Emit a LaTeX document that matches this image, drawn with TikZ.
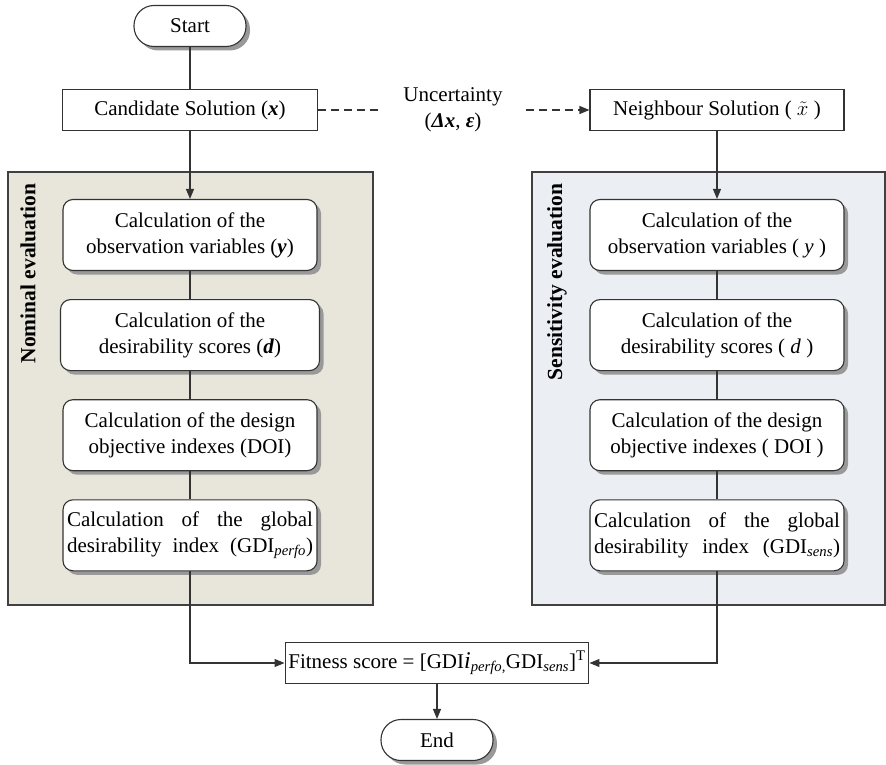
\documentclass[tikz,border=0pt]{standalone}
\usepackage{fontspec}
\setmainfont{Liberation Serif}
\usetikzlibrary{shapes, arrows.meta, positioning, shadows}

\definecolor{nomfill}{HTML}{E8E6DA}
\definecolor{sensfill}{HTML}{EBEEF3}
\newcommand{\lowsub}[1]{\textsubscript{\itshape #1}}
\newcommand{\spreadline}[1]{\hbox to 246pt{#1}}

\begin{document}
\begin{tikzpicture}[x=1pt, y=-1pt, node distance=28pt,
  font=\fontsize{21}{26}\selectfont,
  line/.style={draw=black!80, line width=1.1pt},
  arrowline/.style={line, -{Triangle[length=10pt, width=8pt]}},
  boxshadow/.style={drop shadow={shadow xshift=4pt, shadow yshift=-4pt, fill=black!40, opacity=1}},
  terminal/.style={rectangle, rounded corners=20pt, draw=black!80, line width=1.1pt, fill=white, minimum width=112pt, minimum height=41pt, boxshadow},
  sol/.style={rectangle, draw=black!80, line width=1.1pt, fill=white, minimum height=41pt},
  calc/.style={rectangle, rounded corners=10pt, draw=black!80, line width=1.1pt, fill=white, minimum width=254pt, minimum height=71pt, inner xsep=3pt, align=center, boxshadow},
  panel/.style={draw=black!75, line width=1.3pt},
  paneltitle/.style={rotate=90, anchor=east, font=\fontsize{21.5}{24}\selectfont\bfseries}
]
  \useasboundingbox (0,0) rectangle (886,765);

  % Panels
  \draw [panel, fill=nomfill] (8,172) rectangle (373,605);
  \draw [panel, fill=sensfill] (532,172) rectangle (885,605);
  \node [paneltitle] (nomtitle) at (28,180) {Nominal evaluation};
  \node [paneltitle] (senstitle) at (557,180) {Sensitivity evaluation};

  % Nodes
  \node [terminal] (start) at (190,26) {Start};
  \node [sol, minimum width=255pt] (cand) at (190,110) {Candidate Solution (\textbf{\textit{x}})};
  \node [minimum width=146pt, align=center] (unc) at (453,110) {Uncertainty\\(\textbf{\textit{Δx}}, \textbf{\textit{ε}})};
  \node [sol, minimum width=254pt] (neigh) at (717,110) {Neighbour Solution ( $\tilde{x}$ )};

  \node [calc] (obsnom) at (190,235) {Calculation of the\\observation variables (\textbf{\textit{y}})};
  \node [calc, minimum width=259pt, below=of obsnom] (desnom) {Calculation of the\\desirability scores (\textbf{\textit{d}})};
  \node [calc, below=of desnom] (doinom) {Calculation of the design\\objective indexes (DOI)};
  \node [calc, below=of doinom] (gdinom) {\spreadline{Calculation\hfill of\hfill the\hfill global}\\\spreadline{desirability\hfill index\hfill (GDI\lowsub{perfo})}};

  \node [calc] (obssens) at (717,235) {Calculation of the\\observation variables ( \textit{y} )};
  \node [calc, below=of obssens] (dessens) {Calculation of the\\desirability scores ( \textit{d} )};
  \node [calc, below=of dessens] (doisens) {Calculation of the design\\objective indexes ( DOI )};
  \node [calc, below=of doisens] (gdisens) {\spreadline{Calculation\hfill of\hfill the\hfill global}\\\spreadline{desirability\hfill index\hfill (GDI\lowsub{sens})}};

  \node [sol, minimum width=299pt] (fit) at (437,663) {Fitness score = [GDI{\fontsize{24}{26}\selectfont\itshape i}\lowsub{perfo,}GDI\lowsub{sens}]\textsuperscript{T}};
  \node [terminal] (end) at (437,740) {End};

  % Edges
  \draw [line] (start) -- (cand);
  \draw [arrowline] (cand) -- (obsnom);
  \draw [line] (obsnom) -- (desnom);
  \draw [line] (desnom) -- (doinom);
  \draw [line] (doinom) -- (gdinom);
  \draw [arrowline] (neigh) -- (obssens);
  \draw [line] (obssens) -- (dessens);
  \draw [line] (dessens) -- (doisens);
  \draw [line] (doisens) -- (gdisens);

  % Uncertainty
  \draw [line, dash pattern=on 8pt off 5pt] (cand) -- (unc);
  \draw [arrowline, dash pattern=on 8pt off 5pt] (unc) -- (neigh);

  % Fitness
  \draw [arrowline] (gdinom) |- (fit);
  \draw [arrowline] (gdisens) |- (fit);
  \draw [arrowline] (fit) -- (end);
\end{tikzpicture}
\end{document}
